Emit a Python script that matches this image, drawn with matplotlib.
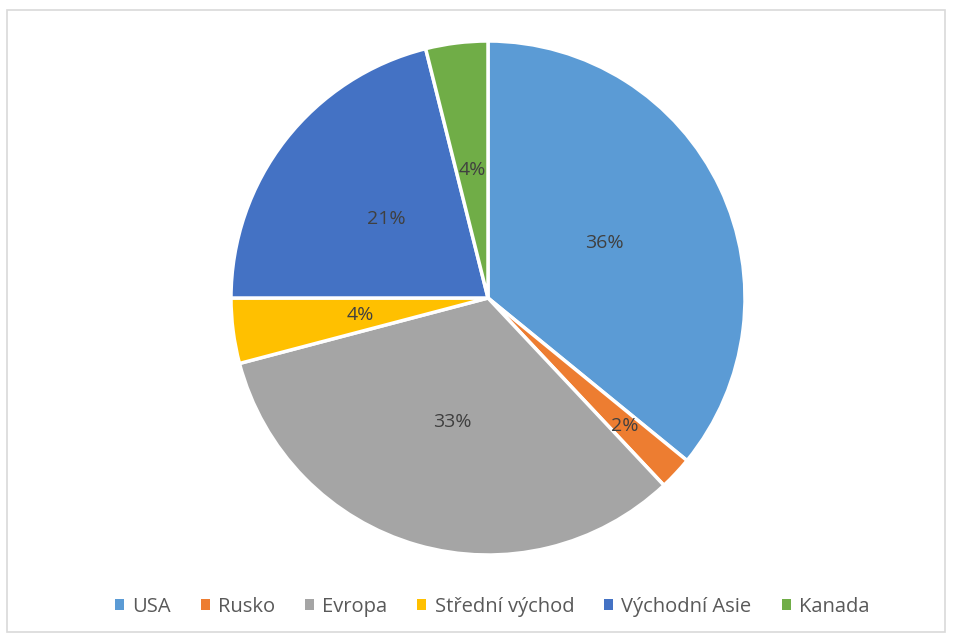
import matplotlib
matplotlib.use("Agg")
import matplotlib.pyplot as plt
from matplotlib.patches import Rectangle
import numpy as np

categories = ["USA", "Rusko", "Evropa", "Střední východ", "Východní Asie", "Kanada"]
values = [35.9, 2.1, 32.9, 4.1, 21.1, 3.9]
labels_pct = ["36%", "2%", "33%", "4%", "21%", "4%"]
colors = ["#5B9BD5", "#ED7D31", "#A5A5A5", "#FFC000", "#4472C4", "#70AD47"]

W, H = 955, 641
fig = plt.figure(figsize=(W / 100, H / 100), dpi=100)
fig.patches.append(Rectangle((7 / W, 1 - 632 / H), (945 - 7) / W, (632 - 10) / H,
                             transform=fig.transFigure, fill=False,
                             edgecolor="#D9D9D9", linewidth=1.2))

cx, cy, r = 488, 298, 257
ax = fig.add_axes([(cx - r) / W, (H - cy - r) / H, 2 * r / W, 2 * r / H])
wedges, _ = ax.pie(values, colors=colors, startangle=90, counterclock=False,
                   radius=1.0, wedgeprops=dict(edgecolor="white", linewidth=2.5))
ax.set_xlim(-1, 1)
ax.set_ylim(-1, 1)
ax.set_aspect("equal")
ax.axis("off")

dists = [0.5, 0.73, 0.5, 0.5, 0.5, 0.5]
for w, lab, d in zip(wedges, labels_pct, dists):
    ang = np.deg2rad((w.theta1 + w.theta2) / 2)
    ax.text(d * np.cos(ang), d * np.sin(ang), lab, ha="center", va="center",
            fontsize=14, color="#404040", family="Open Sans")

handles = [Rectangle((0, 0), 1, 1, facecolor=c, edgecolor="none") for c in colors]
fig.legend(handles, categories, loc="center", bbox_to_anchor=(492 / W, 1 - 607 / H),
           ncol=6, frameon=False, handlelength=0.45, handleheight=0.45,
           handletextpad=0.4, columnspacing=1.5,
           prop=dict(family="Open Sans", size=14.5), labelcolor="#595959")

fig.savefig("out.png", dpi=100)
